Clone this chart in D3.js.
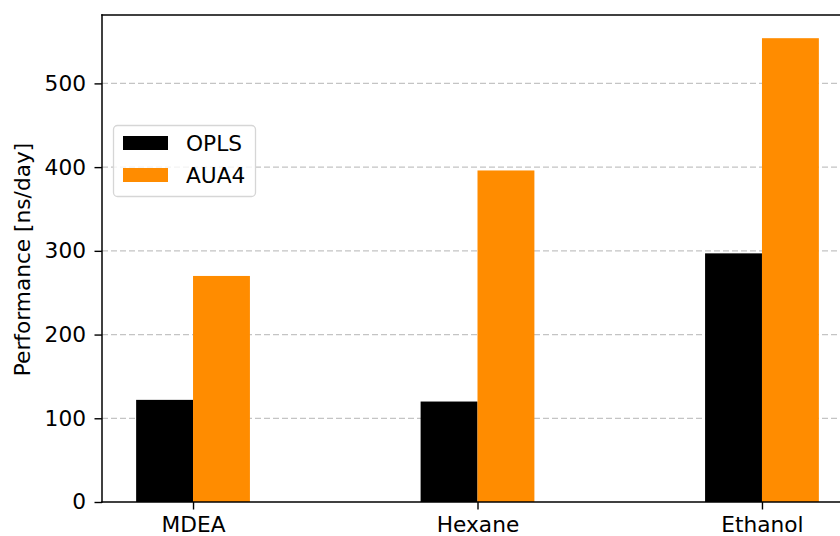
<!DOCTYPE html>
<html>
<head>
<meta charset="utf-8">
<script src="https://cdn.jsdelivr.net/npm/d3@7"></script>
<style>
  html, body { margin: 0; padding: 0; background: #fff; }
  svg { display: block; font-family: "DejaVu Sans", sans-serif; }
</style>
</head>
<body>
<svg id="chart" width="840" height="536"></svg>
<script>
// Simulation throughput per molecule for two force fields
const categories = ["MDEA", "Hexane", "Ethanol"];
const oplsValues = [122, 120, 297];
const aua4Values = [270, 396, 554];
const seriesNames = ["OPLS", "AUA4"];
const seriesColors = ["#000000", "#ff8c00"];
const yTicks = [0, 100, 200, 300, 400, 500];

const svg = d3.select("#chart");
const margin = { left: 102, top: 15, bottom: 502 };
const plotRight = 853; // right spine sits just outside the canvas

// Numeric x positions: category i at i, bars offset by ±0.1 with width 0.2
const barW = 0.2;
const x = d3.scaleLinear().domain([-0.32, 2.32]).range([margin.left, plotRight]);
const yMax = 554 * 1.05;
const y = d3.scaleLinear().domain([0, yMax]).range([margin.bottom, margin.top]);

const fontSize = 21.7;

// Grid lines
svg.append("g")
  .selectAll("line")
  .data(yTicks.filter(d => d > 0))
  .join("line")
  .attr("x1", margin.left).attr("x2", plotRight)
  .attr("y1", d => y(d)).attr("y2", d => y(d))
  .attr("stroke", "#c4c4c4")
  .attr("stroke-width", 1.3)
  .attr("stroke-dasharray", "6,3");

// Bars
const series = [oplsValues, aua4Values];
series.forEach((vals, s) => {
  const offset = s === 0 ? -barW / 2 : barW / 2;
  svg.append("g")
    .selectAll("rect")
    .data(vals)
    .join("rect")
    .attr("x", (d, i) => x(i + offset - barW / 2))
    .attr("width", (d, i) => x(i + offset + barW / 2) - x(i + offset - barW / 2))
    .attr("y", d => y(d))
    .attr("height", d => y(0) - y(d))
    .attr("fill", seriesColors[s]);
});

// Axes
const yAxis = d3.axisLeft(y).tickValues(yTicks).tickSize(7.5).tickPadding(8.5);
const gy = svg.append("g").attr("transform", `translate(${margin.left},0)`).call(yAxis);
gy.select(".domain").remove();
gy.selectAll(".tick line").attr("stroke", "#000").attr("stroke-width", 1.4);
gy.selectAll(".tick text").attr("font-size", fontSize).attr("fill", "#000")
  .attr("font-family", "DejaVu Sans");

const xAxis = d3.axisBottom(x).tickValues(d3.range(categories.length))
  .tickFormat(i => categories[i]).tickSize(7.5).tickPadding(7);
const gx = svg.append("g").attr("transform", `translate(0,${margin.bottom})`).call(xAxis);
gx.select(".domain").remove();
gx.selectAll(".tick line").attr("stroke", "#000").attr("stroke-width", 1.4);
gx.selectAll(".tick text").attr("font-size", fontSize).attr("fill", "#000")
  .attr("font-family", "DejaVu Sans");

// Spines
[[margin.left, margin.top, margin.left, margin.bottom],
 [margin.left, margin.bottom, plotRight, margin.bottom],
 [margin.left, margin.top, plotRight, margin.top],
 [plotRight, margin.top, plotRight, margin.bottom]].forEach(([x1, y1, x2, y2]) => {
  svg.append("line").attr("x1", x1).attr("y1", y1).attr("x2", x2).attr("y2", y2)
    .attr("stroke", "#000").attr("stroke-width", 1.5)
    .attr("stroke-linecap", "square");
});

// Y axis title
svg.append("text")
  .attr("transform", `translate(29.5,${(margin.top + margin.bottom) / 2 + 1}) rotate(-90)`)
  .attr("text-anchor", "middle")
  .attr("font-size", fontSize)
  .attr("fill", "#000")
  .text("Performance [ns/day]");

// Legend
const legend = svg.append("g").attr("transform", "translate(113,125)");
legend.append("rect")
  .attr("x", 0.5).attr("y", 0.5).attr("width", 142).attr("height", 71)
  .attr("rx", 4).attr("ry", 4)
  .attr("fill", "rgba(255,255,255,0.8)")
  .attr("stroke", "#d6d6d6").attr("stroke-width", 1.3);
seriesNames.forEach((name, i) => {
  const row = legend.append("g").attr("transform", `translate(0,${i * 32})`);
  row.append("rect")
    .attr("x", 10).attr("y", 11).attr("width", 45).attr("height", 14)
    .attr("fill", seriesColors[i]);
  row.append("text")
    .attr("x", 73).attr("y", 18).attr("dy", "0.36em")
    .attr("font-size", fontSize).attr("fill", "#000")
    .text(name);
});
</script>
</body>
</html>
